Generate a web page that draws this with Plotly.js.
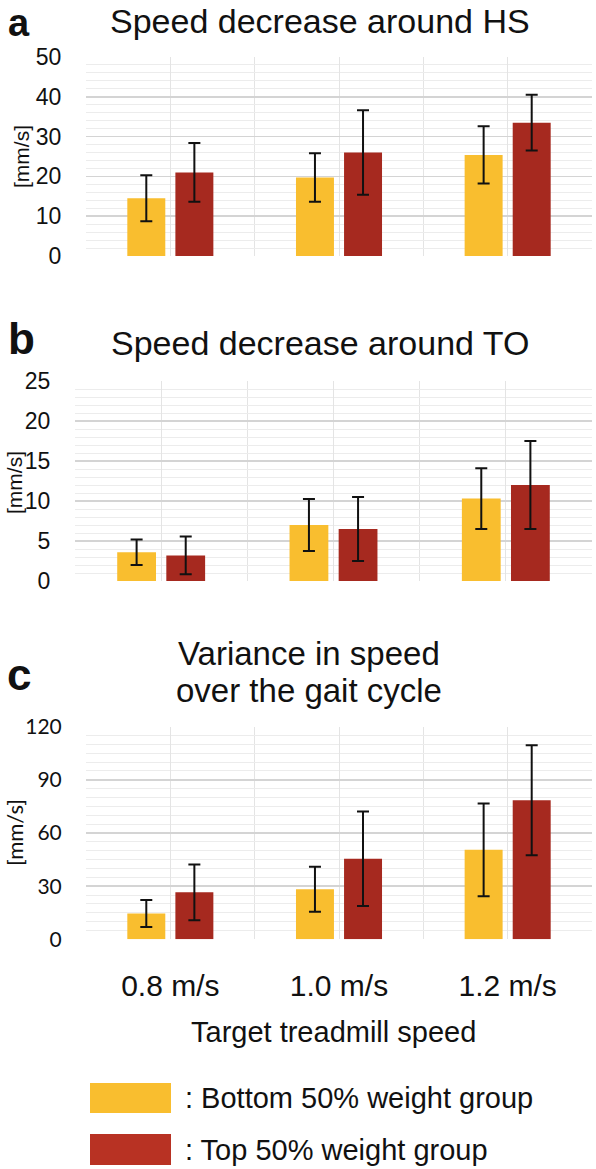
<!DOCTYPE html>
<html>
<head>
<meta charset="utf-8">
<script src="https://cdn.plot.ly/plotly-3.0.1.min.js"></script>
<style>
  html, body { margin: 0; padding: 0; background: #ffffff; }
  #chart { width: 596px; height: 1169px; }
</style>
</head>
<body>
<div id="chart"></div>
<script>
// ---------- data ----------
const categories = ['0.8 m/s', '1.0 m/s', '1.2 m/s'];
const seriesNames = ['Bottom 50% weight group', 'Top 50% weight group'];

const hsBottom = [14.5, 19.7, 25.4];
const hsBottomErr = [5.8, 6.1, 7.2];
const hsTop = [21.0, 26.0, 33.5];
const hsTopErr = [7.4, 10.6, 7.0];

const toBottom = [3.6, 7.0, 10.3];
const toBottomErr = [1.6, 3.25, 3.8];
const toTop = [3.2, 6.5, 12.0];
const toTopErr = [2.35, 4.0, 5.5];

const varBottom = [14.6, 28.3, 50.5];
const varBottomErr = [7.6, 12.7, 26.2];
const varTop = [26.5, 45.5, 78.5];
const varTopErr = [15.7, 26.7, 31.0];

const panelTitles = ['Speed decrease around HS', 'Speed decrease around TO'];
const panelTitleC = ['Variance in speed', 'over the gait cycle'];
const panelLetters = ['a', 'b', 'c'];
const yUnit = '[mm/s]';
const xTitle = 'Target treadmill speed';

// ---------- styling ----------
const YELLOW = '#F9BE2F';
const RED = '#A6291F';
const ARIAL = 'Liberation Sans, Arial, sans-serif';
const CAL = 'Lato, Carlito, Calibri, sans-serif';
const H = 1169, W = 596;
const py = v => (H - v) / H;   // pixel-from-top -> paper y
const px = v => v / W;         // pixel -> paper x

const xIdx = categories.map((_, i) => i);

function barTrace(vals, errs, color, name, xa, ya) {
  return {
    type: 'bar', x: xIdx, y: vals, name: name,
    marker: { color: color, line: { width: 0 } },
    error_y: { type: 'data', array: errs, visible: true, color: '#111111', thickness: 2, width: 6 },
    xaxis: xa, yaxis: ya, showlegend: false, hoverinfo: 'skip'
  };
}

const data = [
  barTrace(hsBottom, hsBottomErr, YELLOW, seriesNames[0], 'x', 'y'),
  barTrace(hsTop, hsTopErr, RED, seriesNames[1], 'x', 'y'),
  barTrace(toBottom, toBottomErr, YELLOW, seriesNames[0], 'x2', 'y2'),
  barTrace(toTop, toTopErr, RED, seriesNames[1], 'x2', 'y2'),
  barTrace(varBottom, varBottomErr, YELLOW, seriesNames[0], 'x3', 'y3'),
  barTrace(varTop, varTopErr, RED, seriesNames[1], 'x3', 'y3')
];

function xAxis(domainLeft, anchor, showLabels) {
  return {
    domain: [px(domainLeft), px(592)], anchor: anchor,
    range: [-0.5, 2.5], tickmode: 'array', tickvals: xIdx, ticktext: categories,
    showticklabels: showLabels, ticks: showLabels ? 'outside' : '', ticklen: 20,
    tickcolor: 'rgba(0,0,0,0)',
    tickfont: { family: ARIAL, size: 30, color: '#111111' },
    showgrid: true, gridcolor: '#e4e4e4', gridwidth: 1,
    minor: { tickmode: 'array', tickvals: [-0.5, 0.5, 1.5, 2.5], showgrid: true, gridcolor: '#e4e4e4', gridwidth: 1, ticks: '' },
    zeroline: false, showline: false, fixedrange: true
  };
}

function yAxis(top, bottom, anchor, maxV, dt, minorDt, fontFam, fontSize) {
  return {
    domain: [py(bottom), py(top)], anchor: anchor,
    range: [0, maxV], tickmode: 'linear', tick0: 0, dtick: dt,
    ticks: 'outside', ticklen: 19, tickcolor: 'rgba(0,0,0,0)',
    tickfont: { family: fontFam, size: fontSize, color: '#111111' },
    showgrid: true, gridcolor: '#d4d4d4', gridwidth: 1.5,
    minor: { tick0: 0, dtick: minorDt, showgrid: true, gridcolor: '#ececec', gridwidth: 1, ticks: '' },
    zeroline: false, showline: false, fixedrange: true
  };
}

const annotations = [];
function ann(text, x, y, size, opts) {
  annotations.push(Object.assign({
    text: text, xref: 'paper', yref: 'paper', x: px(x), y: py(y),
    xanchor: 'center', yanchor: 'middle', showarrow: false,
    font: { family: ARIAL, size: size, color: '#111111' }
  }, opts || {}));
}

// panel letters
ann('<b>' + panelLetters[0] + '</b>', 19, 0, 38, { yanchor: 'top' });
ann('<b>' + panelLetters[1] + '</b>', 21, 339, 44, {});
ann('<b>' + panelLetters[2] + '</b>', 19, 674, 44, {});
// panel titles
ann(panelTitles[0], 320, 0, 34, { yanchor: 'top' });
ann(panelTitles[1], 320, 343, 34);
ann(panelTitleC[0], 309, 653, 33);
ann(panelTitleC[1], 309, 690, 33);
// y units
ann(yUnit, 22, 157, 21, { textangle: -90 });
ann(yUnit, 14, 483, 21, { textangle: -90 });
ann(yUnit, 14, 833, 21, { textangle: -90, font: { family: CAL, size: 22, color: '#111111' } });
// x title
ann(xTitle, 333, 1032, 29);
// legend
ann(': ' + seriesNames[0], 183, 1098, 29, { xanchor: 'left' });
ann(': ' + seriesNames[1], 183, 1150, 29, { xanchor: 'left' });

const shapes = [
  { type: 'rect', xref: 'paper', yref: 'paper', x0: px(90), x1: px(171), y0: py(1113), y1: py(1083),
    fillcolor: YELLOW, line: { width: 0 } },
  { type: 'rect', xref: 'paper', yref: 'paper', x0: px(90), x1: px(171), y0: py(1165), y1: py(1134),
    fillcolor: '#B83223', line: { width: 0 } }
];

const layout = {
  width: W, height: H,
  margin: { l: 0, r: 0, t: 0, b: 0, pad: 0 },
  paper_bgcolor: '#ffffff', plot_bgcolor: '#ffffff',
  barmode: 'group', bargap: 0.43, bargroupgap: 0.21,
  showlegend: false, hovermode: false,
  xaxis: xAxis(86, 'y', false),
  xaxis2: xAxis(75, 'y2', false),
  xaxis3: xAxis(86, 'y3', true),
  yaxis: yAxis(57, 256, 'x', 50, 10, 2, ARIAL, 23),
  yaxis2: yAxis(381, 581, 'x2', 25, 5, 1, ARIAL, 23),
  yaxis3: yAxis(726.7, 939.3, 'x3', 120, 30, 5, CAL, 21),
  annotations: annotations,
  shapes: shapes
};

Plotly.newPlot('chart', data, layout, { staticPlot: true, displayModeBar: false });
</script>
</body>
</html>
